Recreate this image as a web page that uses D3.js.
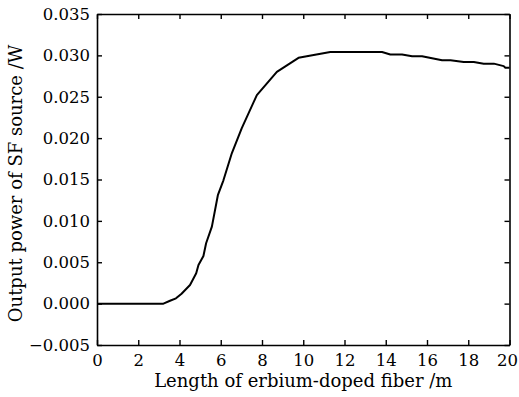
<!DOCTYPE html>
<html>
<head>
<meta charset="utf-8">
<script src="https://cdn.jsdelivr.net/npm/d3@7"></script>
<style>
  body { margin: 0; background: #fff; }
  svg { display: block; }
</style>
</head>
<body>
<div id="chart"></div>
<script>
// curve
const fiberLength = [0, 1, 2, 3, 3.22, 3.54, 3.83, 4.1, 4.51, 4.81, 4.92, 5.16, 5.29, 5.57, 5.86, 6.13, 6.54, 7.02, 7.75, 8.72, 9.77, 11.31, 13.82, 14.22, 14.79, 15.28, 15.76, 16.73, 17.14, 17.78, 18.27, 18.75, 19.24, 19.72, 19.8, 20];
const outputPower = [0, 0, 0, 0, 0, 0.00035, 0.00064, 0.0012, 0.00225, 0.00366, 0.00466, 0.00575, 0.0073, 0.0093, 0.0131, 0.0149, 0.0182, 0.0212, 0.0252, 0.0280, 0.0297, 0.0304, 0.0304, 0.0301, 0.0301, 0.0299, 0.0299, 0.0294, 0.0294, 0.0292, 0.0292, 0.0290, 0.0290, 0.0287, 0.0285, 0.0285];
const xTicks = [0, 2, 4, 6, 8, 10, 12, 14, 16, 18, 20];
const yTicks = [-0.005, 0, 0.005, 0.010, 0.015, 0.020, 0.025, 0.030, 0.035];

const width = 519, height = 397;
const margin = {top: 14, right: 9.5, bottom: 52, left: 97};
const font = "'DejaVu Serif', serif";

const x = d3.scaleLinear().domain([0, 20]).range([margin.left, width - margin.right]);
const y = d3.scaleLinear().domain([-0.005, 0.035]).range([height - margin.bottom, margin.top]);

const svg = d3.select("#chart").append("svg")
    .attr("width", width)
    .attr("height", height)
    .style("font-family", font);

const fmt = d => d3.format(".3f")(d).replace("-", "\u2212");

// ticks point inward on all four sides
svg.append("g")
    .attr("transform", `translate(0,${y(-0.005)})`)
    .call(d3.axisBottom(x).tickValues(xTicks).tickSizeInner(-5).tickSizeOuter(0).tickPadding(9))
    .call(g => g.selectAll("text").attr("font-size", 16.5).attr("font-family", font).attr("fill", "#000")
        .attr("dx", d => d === 20 ? -2.5 : 0));

svg.append("g")
    .attr("transform", `translate(0,${y(0.035)})`)
    .call(d3.axisTop(x).tickValues(xTicks).tickSizeInner(-5).tickSizeOuter(0).tickFormat(""));

svg.append("g")
    .attr("transform", `translate(${x(0)},0)`)
    .call(d3.axisLeft(y).tickValues(yTicks).tickSizeInner(-5).tickSizeOuter(0).tickPadding(7).tickFormat(fmt))
    .call(g => g.selectAll("text").attr("font-size", 16.5).attr("font-family", font).attr("fill", "#000"));

svg.append("g")
    .attr("transform", `translate(${x(20)},0)`)
    .call(d3.axisRight(y).tickValues(yTicks).tickSizeInner(-5).tickSizeOuter(0).tickFormat(""));

svg.selectAll(".domain").attr("stroke", "#000").attr("stroke-width", 1.6);
svg.selectAll(".tick line").attr("stroke", "#000").attr("stroke-width", 1.4);

const line = d3.line()
    .x((d, i) => x(fiberLength[i]))
    .y(d => y(d));

svg.append("path")
    .datum(outputPower)
    .attr("fill", "none")
    .attr("stroke", "#000")
    .attr("stroke-width", 2)
    .attr("stroke-linejoin", "round")
    .attr("d", line);

svg.append("text")
    .attr("x", (x(0) + x(20)) / 2)
    .attr("y", 387)
    .attr("text-anchor", "middle")
    .attr("font-size", 18)
    .text("Length of erbium-doped fiber /m");

svg.append("text")
    .attr("transform", `translate(22,${(y(-0.005) + y(0.035)) / 2 + 4}) rotate(-90)`)
    .attr("text-anchor", "middle")
    .attr("font-size", 18)
    .text("Output power of SF source /W");
</script>
</body>
</html>
